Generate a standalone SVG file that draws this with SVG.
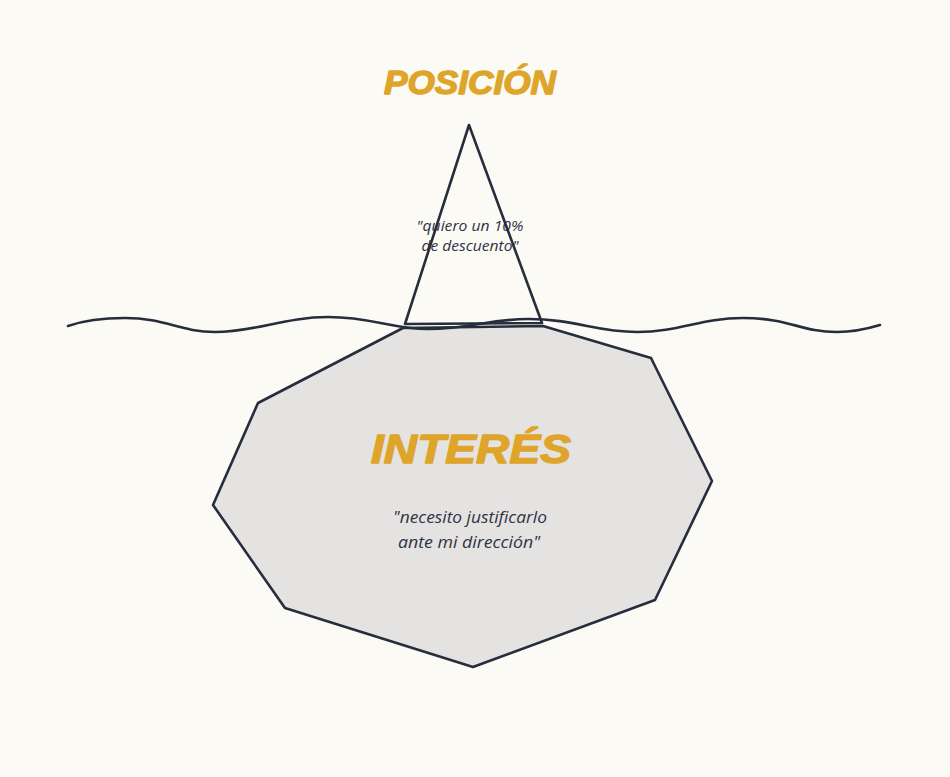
<svg xmlns="http://www.w3.org/2000/svg" width="950" height="777" viewBox="0 0 950 777">
<style>
.ln{fill:none;stroke:#262d3d;stroke-width:2.6;stroke-linejoin:round;stroke-linecap:round}
.berg{fill:#e5e2e2}
.title{font-family:"Liberation Sans","DejaVu Sans",sans-serif;font-weight:900;font-style:italic;fill:#dea52a;stroke:#dea52a;stroke-width:1.4;stroke-linejoin:round;text-anchor:middle}
.quote{font-family:"Open Sans","Lato","DejaVu Sans",sans-serif;font-style:italic;fill:#2e3344;text-anchor:middle}
</style>
<rect width="950" height="777" fill="#fbfaf5"/>
<g id="interes">
<polygon class="ln berg" points="403,328 543,326 651,358 712,481 655,600 473,667 285,608 213,505 258,403"/>
<text class="title" x="471" y="463" font-size="40" textLength="200" lengthAdjust="spacingAndGlyphs">INTERÉS</text>
<text class="quote" x="470" y="523" font-size="16" textLength="154" lengthAdjust="spacingAndGlyphs">"necesito justificarlo</text>
<text class="quote" x="469" y="548" font-size="16" textLength="142" lengthAdjust="spacingAndGlyphs">ante mi dirección"</text>
</g>
<g id="posicion">
<text class="title" x="470" y="94" font-size="34" textLength="172" lengthAdjust="spacingAndGlyphs">POSICIÓN</text>
<text class="quote" x="470" y="231" font-size="14" textLength="107" lengthAdjust="spacingAndGlyphs">"quiero un 10%</text>
<text class="quote" x="470" y="251" font-size="14" textLength="97" lengthAdjust="spacingAndGlyphs">de descuento"</text>
<polygon class="ln" points="469,125 542,323 405,324"/>
</g>
<g id="connectors">
<path id="water" class="ln" d="M68,326 C85,320 105,318 125,318 C165,318 180,332 215,332 C255,332 285,317 328,317 C372,317 392,329 428,329 C470,329 490,319 528,319 C575,319 595,332 637,332 C680,332 700,318 743,318 C790,318 800,332 837,332 C855,332 870,328 880,325"/>
</g>
</svg>
